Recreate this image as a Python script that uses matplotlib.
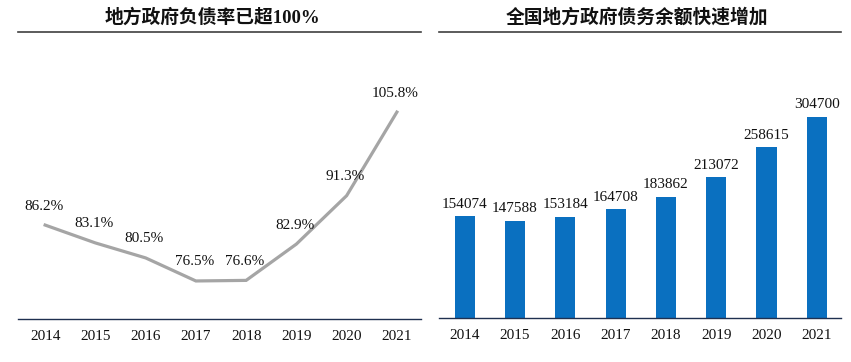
import matplotlib
matplotlib.use("Agg")
import matplotlib.pyplot as plt

years = ["2014", "2015", "2016", "2017", "2018", "2019", "2020", "2021"]
debt_ratio = [86.2, 83.1, 80.5, 76.5, 76.6, 82.9, 91.3, 105.8]
debt_balance = [154074, 147588, 153184, 164708, 183862, 213072, 258615, 304700]

title_left = "地方政府负债率已超100%"
title_right = "全国地方政府债务余额快速增加"

serif = ["Liberation Serif", "Noto Sans CJK SC"]
title_font = ["Liberation Serif", "Noto Sans CJK SC"]

fig = plt.figure(figsize=(8.51, 3.62), dpi=100)

ax1 = fig.add_axes([18/851, 43/362, 403/851, 287/362])
ax2 = fig.add_axes([439/851, 44/362, 402/851, 286/362])

x = list(range(len(years)))

# Left: line chart
ax1.plot(x, debt_ratio, color="#a5a5a5", lw=2.3, solid_joinstyle="miter")
for xi, v in zip(x, debt_ratio):
    ax1.annotate(f"{v}%", (xi, v), xytext=(-1, 9), textcoords="offset points",
                 ha="center", va="bottom", fontsize=11, family=serif, color="#111111")
ax1.set_ylim(69.9, 119.7)
ax1.set_xlim(-0.54, 7.48)

# Right: bar chart
ax2.bar(x, debt_balance, width=0.4, color="#0a70c0")
for xi, v in zip(x, debt_balance):
    ax2.annotate(f"{v}", (xi, v), xytext=(0, 4), textcoords="offset points",
                 ha="center", va="bottom", fontsize=11, family=serif, color="#111111")
ax2.set_ylim(0, 433600)
ax2.set_xlim(-0.51, 7.48)

for ax, t in ((ax1, title_left), (ax2, title_right)):
    ax.set_xticks(x)
    ax.set_xticklabels(years, fontsize=11, family=serif, color="#111111")
    ax.tick_params(axis="x", length=0, pad=8)
    ax.set_yticks([])
    ax.spines["left"].set_visible(False)
    ax.spines["right"].set_visible(False)
    ax.spines["bottom"].set_color("#1f3050")
    ax.spines["bottom"].set_linewidth(1.0)
    ax.spines["top"].set_color("#404040")
    ax.spines["top"].set_linewidth(1.2)
    ax.set_facecolor("none")

fig.text(212/851, 1 - 17/362, title_left, ha="center", va="center", fontsize=13.5,
         fontweight="bold", family=title_font, color="#111111")
fig.text(637/851, 1 - 17/362, title_right, ha="center", va="center", fontsize=13.5,
         fontweight="bold", family=title_font, color="#111111")

fig.savefig("out.png", dpi=100)
